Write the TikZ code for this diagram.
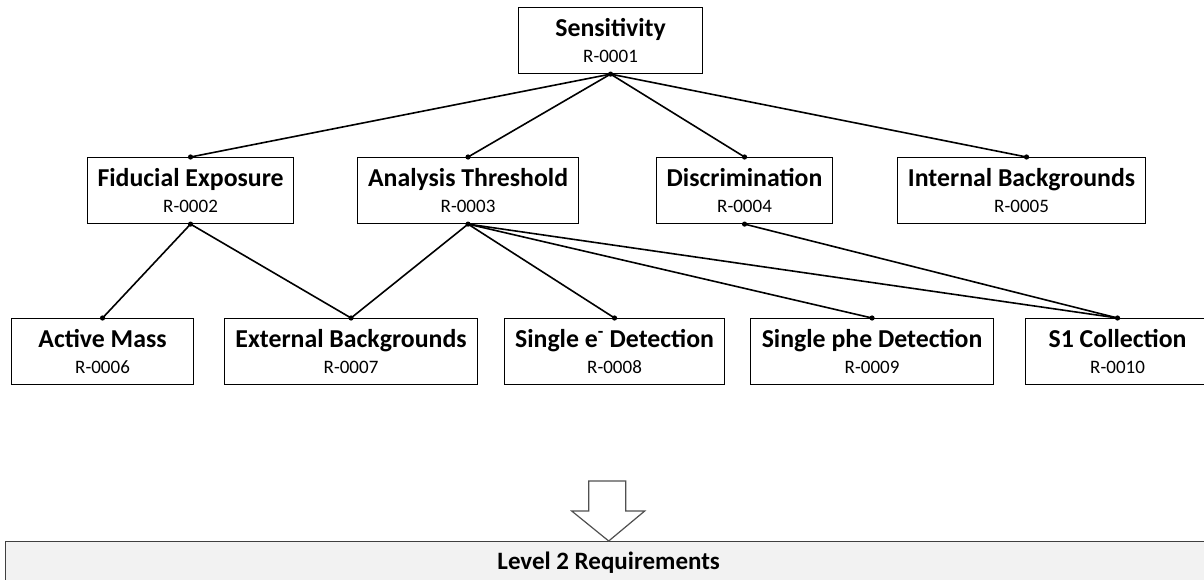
\documentclass[tikz,border=0pt]{standalone}
\usepackage{fontspec}
\setmainfont{Carlito}
\usetikzlibrary{calc}
\definecolor{lvlfill}{HTML}{F2F2F2}
\definecolor{lvldraw}{HTML}{404040}
\definecolor{arrdraw}{HTML}{505050}
\tikzset{
  reqbox/.style={draw=black, line width=1.1pt, fill=white, minimum height=66pt, inner sep=0pt, anchor=north west},
  ttl/.style={anchor=base, font=\bfseries\fontsize{25.8}{30}\selectfont, inner sep=0pt},
  rcode/.style={anchor=base, font=\fontsize{19}{23}\selectfont, inner sep=0pt},
  conn/.style={line width=1.6pt, black},
  lvlbox/.style={draw=lvldraw, line width=1.4pt, fill=lvlfill, minimum height=60pt, inner sep=0pt, anchor=north west},
  lvltext/.style={anchor=base, font=\bfseries\fontsize{25}{29}\selectfont, inner sep=0pt},
  blockarrow/.style={draw=arrdraw, line width=1.2pt, fill=white, line join=miter},
}
\newcommand{\mkreq}[6]{%
  \node[reqbox, minimum width=#4pt] (#1) at (#2,#3) {};
  \node[ttl] at ([yshift=-29pt]#1.north) {#5};
  \node[rcode] at ([yshift=-55.5pt]#1.north) {#6};
}
\begin{document}
\begin{tikzpicture}[x=1pt,y=-1pt]
\useasboundingbox (0,0) rectangle (1204,579);
% level 0
\mkreq{sens}{518}{7}{184}{Sensitivity}{R-0001}
% level 1
\mkreq{fid}{87}{157}{206}{Fiducial Exposure}{R-0002}
\mkreq{ana}{357}{157}{221}{Analysis Threshold}{R-0003}
\mkreq{disc}{656}{157}{176}{Discrimination}{R-0004}
\mkreq{int}{897}{157}{248}{Internal Backgrounds}{R-0005}
% level 2
\mkreq{act}{11}{318}{182}{Active Mass}{R-0006}
\mkreq{ext}{224}{318}{253}{External Backgrounds}{R-0007}
\mkreq{sge}{504}{318}{220}{Single e\textsuperscript{-} Detection}{R-0008}
\mkreq{sgp}{750}{318}{243}{Single phe Detection}{R-0009}
\mkreq{sone}{1025}{318}{184}{S1 Collection}{R-0010}
% connectors
\draw[conn] (sens.south) -- (fid.north);
\draw[conn] (sens.south) -- (ana.north);
\draw[conn] (sens.south) -- (disc.north);
\draw[conn] (sens.south) -- ([xshift=5pt]int.north);
\draw[conn] (fid.south) -- (act.north);
\draw[conn] (fid.south) -- (ext.north);
\draw[conn] (ana.south) -- (ext.north);
\draw[conn] (ana.south) -- (sge.north);
\draw[conn] (ana.south) -- (sgp.north);
\draw[conn] (ana.south) -- (sone.north);
\draw[conn] (disc.south) -- (sone.north);
% dots
\foreach \p in {sens.south, fid.north, ana.north, disc.north, fid.south, ana.south, disc.south, act.north, ext.north, sge.north, sgp.north, sone.north}
  \fill (\p) circle (2.6pt);
\fill ([xshift=5pt]int.north) circle (2.6pt);
% level 2 requirements
\node[lvlbox, minimum width=1206pt] (lvl) at (5,541) {};
\node[lvltext] at ([yshift=-28.5pt]lvl.north) {Level 2 Requirements};
\draw[blockarrow] (lvl.north) -- ++(-37,-30) -- ++(17,0) -- ++(0,-30) -- ++(37,0) -- ++(0,30) -- ++(19,0) -- cycle;
\end{tikzpicture}
\end{document}
